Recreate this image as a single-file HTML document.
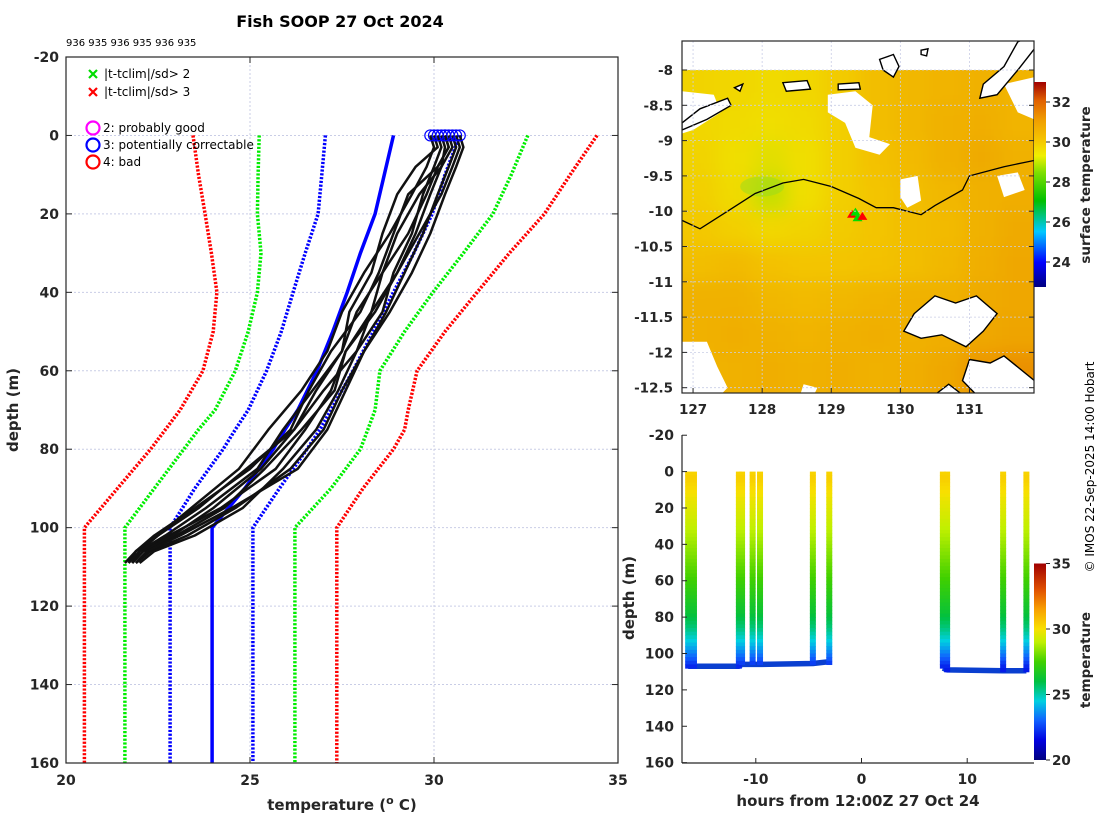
<!DOCTYPE html>
<html><head><meta charset="utf-8"><title>Fish SOOP 27 Oct 2024</title>
<style>
html,body{margin:0;padding:0;background:#fff;}
svg{display:block;font-family:"DejaVu Sans","Liberation Sans",sans-serif;}
.tk{font-size:14px;font-weight:bold;fill:#262626;}
.mt{font-size:13.5px;font-weight:bold;fill:#262626;}
.lab{font-size:15px;font-weight:bold;fill:#262626;}
.leg{font-size:12px;fill:#000;}
</style></head>
<body>
<svg id="fig" width="1100" height="820" viewBox="0 0 1100 820" xmlns="http://www.w3.org/2000/svg">
<defs>
<clipPath id="clipL"><rect x="66" y="57" width="552" height="706"/></clipPath>
<clipPath id="clipM"><rect x="682" y="41" width="352" height="352"/></clipPath>
<clipPath id="clipB"><rect x="682" y="435" width="352" height="328"/></clipPath>
<filter id="blur" x="-5%" y="-5%" width="110%" height="110%"><feGaussianBlur stdDeviation="9"/></filter>
<linearGradient id="cbMap" x1="0" y1="1" x2="0" y2="0">
<stop offset="0" stop-color="#000080"/><stop offset="0.12" stop-color="#0000ff"/>
<stop offset="0.27" stop-color="#00c8ff"/><stop offset="0.42" stop-color="#00c000"/>
<stop offset="0.56" stop-color="#80e000"/><stop offset="0.64" stop-color="#f0f000"/>
<stop offset="0.71" stop-color="#f5c800"/><stop offset="0.81" stop-color="#f0a000"/>
<stop offset="0.91" stop-color="#e06000"/><stop offset="1" stop-color="#a00000"/>
</linearGradient>
<linearGradient id="cbT" x1="0" y1="1" x2="0" y2="0">
<stop offset="0" stop-color="#000080"/><stop offset="0.1" stop-color="#0000e0"/>
<stop offset="0.2" stop-color="#1060ff"/><stop offset="0.3" stop-color="#00d0e0"/>
<stop offset="0.4" stop-color="#00c040"/><stop offset="0.5" stop-color="#40d000"/>
<stop offset="0.6" stop-color="#c0f000"/><stop offset="0.667" stop-color="#f8e000"/>
<stop offset="0.767" stop-color="#f8a000"/><stop offset="0.867" stop-color="#e05000"/>
<stop offset="1" stop-color="#a00000"/>
</linearGradient>
</defs>

<text x="340" y="27" text-anchor="middle" style="font-size:16px;font-weight:bold">Fish SOOP 27 Oct 2024</text>
<text x="66" y="46" style="font-size:10px">936 935 936 935 936 935</text>

<g id="left"></g>
<g id="map"></g>
<g id="bot"></g>

<text transform="translate(1094,467) rotate(-90)" text-anchor="middle" style="font-size:12px">© IMOS 22-Sep-2025 14:00 Hobart</text>
</svg>
<script>
const NS='http://www.w3.org/2000/svg';
function mk(parent,tag,attrs,text){const e=document.createElementNS(NS,tag);for(const k in attrs)e.setAttribute(k,attrs[k]);if(text!==undefined)e.textContent=text;parent.appendChild(e);return e;}

// ---------- LEFT PROFILE DATA ----------
const climDepths=[0,10,20,30,40,50,60,70,75,80,90,100,110,120,150,160];
const redLo=[23.45,23.6,23.78,23.95,24.1,24.0,23.72,23.1,22.7,22.3,21.4,20.5,20.5,20.5,20.5,20.5];
const greenLo=[25.25,25.22,25.2,25.3,25.2,24.95,24.6,24.05,23.6,23.2,22.4,21.6,21.6,21.6,21.6,21.6];
const blueLo=[27.05,26.95,26.85,26.5,26.17,25.85,25.45,24.95,24.6,24.27,23.5,22.83,22.83,22.83,22.83,22.83];
const climMean=[28.9,28.65,28.4,28.0,27.64,27.25,26.82,26.3,25.95,25.63,24.86,23.97,23.97,23.97,23.97,23.97];
const blueHi=[30.7,30.3,29.95,29.45,28.9,28.35,27.8,27.2,26.9,26.55,25.8,25.08,25.08,25.08,25.08,25.08];
const greenHi=[32.55,32.1,31.6,30.8,29.97,29.2,28.53,28.4,28.2,28.0,27.2,26.22,26.22,26.22,26.22,26.22];
const redHi=[34.43,33.7,33.0,32.05,31.17,30.3,29.54,29.3,29.2,28.9,28.07,27.36,27.36,27.36,27.36,27.36];

const obsDepths=[0,3,8,15,25,35,45,55,65,75,85,95,102,106,109];
const obs1=[30.0,30.1,29.5,29.0,28.6,28.3,27.7,27.5,26.8,26.2,24.9,23.6,22.5,21.9,21.7];
const obs2=[30.3,30.4,30.1,29.8,29.3,28.6,28.3,27.6,27.2,26.5,25.7,24.2,22.8,22.1,21.8];
const obs3=[30.5,30.6,30.4,30.1,29.7,29.2,28.7,28.1,27.5,27.0,26.1,24.6,23.3,22.3,21.9];
const obs4=[29.9,30.0,29.8,29.4,28.8,28.1,27.5,27.1,26.4,25.5,24.7,23.4,22.5,22.0,21.8];
const obs5=[30.2,30.3,30.2,29.9,29.5,29.0,28.4,27.6,27.3,26.4,25.4,24.3,23.0,22.2,21.9];
const obs6=[30.4,30.5,30.2,29.6,29.0,28.6,27.9,27.5,26.7,25.9,25.2,23.8,22.7,22.0,21.7];
const obs7=[30.1,30.2,30.0,29.7,29.4,28.9,28.6,27.9,27.4,26.8,25.9,24.8,23.5,22.4,22.0];
const obs8=[30.6,30.7,30.5,30.2,29.6,29.0,28.3,27.9,27.0,26.2,25.3,24.0,22.9,22.1,21.8];
const obs9=[30.3,30.4,30.1,29.3,28.9,28.5,28.0,27.2,26.6,26.1,25.0,23.5,22.4,21.9,21.6];
const obs10=[30.7,30.8,30.6,30.3,29.9,29.4,28.8,28.1,27.6,27.1,26.3,24.5,23.1,22.2,21.9];
const xTicksL=[20,25,30,35];
const yTicksL=[-20,0,20,40,60,80,100,120,140,160];

const xL=t=>66+(t-20)*36.8, yL=d=>57+(d+20)*3.9222;
const L=document.getElementById('left');
xTicksL.slice(1,3).forEach(t=>{const g=mk(L,'line',{x1:xL(t),x2:xL(t),y1:57,y2:763,stroke:'#c9cde6','stroke-width':1,'stroke-dasharray':'2,2'});

});
yTicksL.slice(1,-1).forEach(d=>{const g=mk(L,'line',{x1:66,x2:618,y1:yL(d),y2:yL(d),stroke:'#c9cde6','stroke-width':1,'stroke-dasharray':'2,2'});

});
const LC=mk(L,'g',{'clip-path':'url(#clipL)'});
function climLine(arr,color,dash,name){
  const pts=arr.map((t,i)=>xL(t).toFixed(1)+','+yL(climDepths[i]).toFixed(1)).join(' ');
  const p=mk(LC,'polyline',{points:pts,fill:'none',stroke:color,'stroke-width':3.5,'stroke-dasharray':dash?'2.2,1.6':'none'});
  
  
}
climLine(redLo,'#ff0000',true,'clim-minus-3sd');
climLine(greenLo,'#00ee00',true,'clim-minus-2sd');
climLine(blueLo,'#0000ff',true,'clim-minus-1sd');
climLine(climMean,'#0000ff',false,'clim-mean');
climLine(blueHi,'#0000ff',true,'clim-plus-1sd');
climLine(greenHi,'#00ee00',true,'clim-plus-2sd');
climLine(redHi,'#ff0000',true,'clim-plus-3sd');
const allObs=[obs1,obs2,obs3,obs4,obs5,obs6,obs7,obs8,obs9,obs10];
allObs.forEach(o=>{
  const pts=o.map((t,i)=>xL(t).toFixed(1)+','+yL(obsDepths[i]).toFixed(1)).join(' ');
  const p=mk(LC,'polyline',{points:pts,fill:'none',stroke:'#111','stroke-width':2.5,'stroke-linejoin':'round'});
  
  
  const c=mk(LC,'circle',{cx:xL(o[0]),cy:yL(0),r:5.5,fill:'none',stroke:'#0000ff','stroke-width':1.2});
  
  
});
mk(L,'rect',{x:66,y:57,width:552,height:706,fill:'none',stroke:'#262626','stroke-width':1.2});
xTicksL.forEach(t=>{mk(L,'line',{x1:xL(t),x2:xL(t),y1:763,y2:757,stroke:'#262626'});mk(L,'line',{x1:xL(t),x2:xL(t),y1:57,y2:63,stroke:'#262626'});
 const tx=mk(L,'text',{x:xL(t),y:785,'text-anchor':'middle',class:'tk'},String(t));
 
 });
yTicksL.forEach(d=>{mk(L,'line',{x1:66,x2:72,y1:yL(d),y2:yL(d),stroke:'#262626'});mk(L,'line',{x1:618,x2:612,y1:yL(d),y2:yL(d),stroke:'#262626'});
 const tx=mk(L,'text',{x:59,y:yL(d)+5,'text-anchor':'end',class:'tk'},String(d));
 
 });
const xt=mk(L,'text',{x:342,y:810,'text-anchor':'middle',class:'lab'});
xt.innerHTML='temperature (<tspan dy="-6" style="font-size:11px">o</tspan><tspan dy="6"> C)</tspan>';


const yt=mk(L,'text',{transform:'translate(18,410) rotate(-90)','text-anchor':'middle',class:'lab'},'depth (m)');


const LG=mk(L,'g',{});


[[74,'#00dd00','|t-tclim|/sd> 2'],[92,'#ff0000','|t-tclim|/sd> 3']].forEach(([y,c,t])=>{
 mk(LG,'path',{d:`M${89},${y-4}l8,8M${97},${y-4}l-8,8`,stroke:c,'stroke-width':2.2});
 const e=mk(LG,'text',{x:104,y:y+4,class:'leg'},t);
 
 });
[[128,'#ff00ff','2: probably good'],[145,'#0000ff','3: potentially correctable'],[162,'#ff0000','4: bad']].forEach(([y,c,t])=>{
 mk(LG,'circle',{cx:93,cy:y,r:6.5,fill:'none',stroke:c,'stroke-width':2.2});
 const e=mk(LG,'text',{x:103,y:y+4,class:'leg'},t);
 
 });

// ---------- MAP ----------
const sstLon0=126.84, sstLonStep=0.51, sstLat0=-8.0, sstLatStep=-0.5;
const sstRow0=[29.6,29.5,29.4,29.5,29.8,30.2,30.4,30.5,30.6,30.5];
const sstRow1=[29.5,29.4,29.3,29.4,29.7,30.2,30.4,30.6,30.7,30.5];
const sstRow2=[29.6,29.3,29.2,29.3,29.7,30.1,30.3,30.6,30.8,30.6];
const sstRow3=[29.7,29.4,29.0,29.3,29.7,30.0,30.2,30.4,30.6,30.7];
const sstRow4=[29.9,29.7,29.5,29.6,29.8,30.0,30.2,30.3,30.6,30.8];
const sstRow5=[30.2,30.3,30.1,30.0,30.0,30.1,30.2,30.4,30.7,30.9];
const sstRow6=[30.6,30.6,30.4,30.3,30.4,30.5,30.6,30.6,30.8,30.9];
const sstRow7=[30.6,30.7,30.6,30.5,30.6,30.7,30.6,30.7,30.9,31.0];
const sstRow8=[30.5,30.6,30.7,30.6,30.7,30.6,30.7,30.9,31.2,31.3];
const lonTicks=[127,128,129,130,131];
const latTicks=[-8,-8.5,-9,-9.5,-10,-10.5,-11,-11.5,-12,-12.5];
const sstCbTicks=[24,26,28,30,32];
const xM=lon=>682+(lon-126.84)*69.1, yM=lat=>70+(-8-lat)*70.6;
const mStops=[[22.75,[0,0,128]],[24,[0,0,255]],[25.5,[0,200,255]],[27,[0,192,0]],[28.5,[128,224,0]],[29.3,[240,222,0]],[30,[243,196,0]],[31,[238,164,0]],[32,[224,96,0]],[33,[160,0,0]]];
function cmap(stops,v){if(v<=stops[0][0])return stops[0][1];for(let i=1;i<stops.length;i++){if(v<=stops[i][0]){const f=(v-stops[i-1][0])/(stops[i][0]-stops[i-1][0]);const a=stops[i-1][1],b=stops[i][1];return a.map((x,k)=>Math.round(x+(b[k]-x)*f));}}return stops[stops.length-1][1];}
const rgb=c=>`rgb(${c[0]},${c[1]},${c[2]})`;
const M=document.getElementById('map');
const MC=mk(M,'g',{'clip-path':'url(#clipM)'});
const R=mk(MC,'g',{filter:'url(#blur)'});
const MCr=mk(MC,'g',{});
[sstRow0,sstRow1,sstRow2,sstRow3,sstRow4,sstRow5,sstRow6,sstRow7,sstRow8].forEach((row,r)=>{
 row.forEach((v,c)=>{
  const x0=xM(sstLon0+c*sstLonStep), y0=yM(sstLat0+r*sstLatStep);
  const cell=mk(R,'rect',{x:x0-(c===0?20:0),y:y0-(r===0?25:0),width:sstLonStep*69.1+1+(c===0||c===9?20:0),height:35.3+1+(r===8?20:0)+(r===0?25:0),fill:rgb(cmap(mStops,v))});
  
  
 });
});
mk(MCr,'rect',{x:682,y:41,width:352,height:29,fill:'#fff'});
const gp=mk(MCr,'ellipse',{cx:xM(128.0),cy:yM(-9.65),rx:22,ry:10,fill:'#90dc20',opacity:0.45});


const clouds=[
 [[128.95,-8.35],[129.35,-8.3],[129.6,-8.5],[129.55,-8.95],[129.85,-9.05],[129.7,-9.2],[129.35,-9.1],[129.2,-8.75],[128.95,-8.6]],
 [[130.0,-9.55],[130.25,-9.5],[130.3,-9.85],[130.1,-9.95],[130.0,-9.8]],
 [[126.84,-11.85],[127.2,-11.85],[127.35,-12.2],[127.5,-12.5],[127.4,-12.6],[126.84,-12.6]],
 [[128.6,-12.45],[128.8,-12.5],[128.75,-12.6],[128.55,-12.6]],
 [[131.5,-8.2],[131.94,-8.1],[131.94,-8.7],[131.7,-8.6]],
 [[126.84,-8.3],[127.3,-8.35],[127.4,-8.6],[127.0,-8.85],[126.84,-8.9]],
 [[131.4,-9.5],[131.7,-9.45],[131.8,-9.7],[131.5,-9.8]]
];
clouds.forEach(pl=>{const p=mk(MCr,'polygon',{points:pl.map(q=>xM(q[0]).toFixed(1)+','+yM(q[1]).toFixed(1)).join(' '),fill:'#fff'});
 
 });
const islands=[
 [[126.84,-8.75],[127.1,-8.55],[127.5,-8.4],[127.55,-8.5],[127.2,-8.7],[126.84,-8.85]],
 [[127.6,-8.25],[127.72,-8.2],[127.68,-8.3]],
 [[128.3,-8.18],[128.65,-8.15],[128.7,-8.27],[128.35,-8.3]],
 [[129.1,-8.2],[129.4,-8.18],[129.42,-8.27],[129.1,-8.28]],
 [[129.7,-7.85],[129.9,-7.78],[129.98,-7.95],[129.9,-8.1],[129.75,-8.0]],
 [[130.3,-7.72],[130.4,-7.7],[130.38,-7.8],[130.3,-7.78]],
 [[131.2,-8.2],[131.5,-7.95],[131.7,-7.6],[131.94,-7.5],[131.94,-7.7],[131.7,-8.0],[131.4,-8.35],[131.15,-8.4]],
 [[130.2,-11.45],[130.5,-11.2],[130.8,-11.3],[131.1,-11.2],[131.4,-11.45],[131.2,-11.7],[130.95,-11.92],[130.6,-11.75],[130.3,-11.8],[130.05,-11.7]],
 [[131.0,-12.1],[131.3,-12.15],[131.5,-12.05],[131.94,-12.4],[131.94,-12.6],[131.1,-12.6],[130.9,-12.4]],
 [[130.5,-12.6],[130.7,-12.45],[130.9,-12.6]]
];
islands.forEach(pl=>{const p=mk(MCr,'polygon',{points:pl.map(q=>xM(q[0]).toFixed(1)+','+yM(q[1]).toFixed(1)).join(' '),fill:'#fff',stroke:'#000','stroke-width':1.4});
 
 });
const iso=[[126.84,-10.13],[127.1,-10.25],[127.5,-10.0],[127.9,-9.75],[128.3,-9.6],[128.6,-9.55],[129.0,-9.65],[129.4,-9.82],[129.65,-9.95],[129.9,-9.95],[130.3,-10.05],[130.5,-9.92],[130.9,-9.7],[131.0,-9.5],[131.5,-9.37],[131.94,-9.28]];
const isoL=mk(MCr,'polyline',{points:iso.map(q=>xM(q[0]).toFixed(1)+','+yM(q[1]).toFixed(1)).join(' '),fill:'none',stroke:'#000','stroke-width':1.3});


const shipLon=[129.3,129.38,129.45,129.35];
const shipLat=[-10.05,-10.1,-10.08,-10.02];
shipLon.forEach((lo,i)=>{const t=mk(MCr,'path',{d:`M${xM(lo)},${yM(shipLat[i])-5}l5,8h-10z`,fill:i%2?'#00dd00':'#ff0000'});
 
 });
lonTicks.forEach(l=>mk(MCr,'line',{x1:xM(l),x2:xM(l),y1:41,y2:393,stroke:'#c9cde6','stroke-dasharray':'2,2','stroke-width':0.8}));
latTicks.forEach(l=>mk(MCr,'line',{x1:682,x2:1034,y1:yM(l),y2:yM(l),stroke:'#c9cde6','stroke-dasharray':'2,2','stroke-width':0.8}));
mk(M,'rect',{x:682,y:41,width:352,height:352,fill:'none',stroke:'#262626','stroke-width':1.2});
lonTicks.forEach(l=>{mk(M,'line',{x1:xM(l),x2:xM(l),y1:393,y2:388,stroke:'#262626'});
 const t=mk(M,'text',{x:xM(l),y:414,'text-anchor':'middle',class:'mt'},String(l));
 
 });
latTicks.forEach(l=>{mk(M,'line',{x1:682,x2:687,y1:yM(l),y2:yM(l),stroke:'#262626'});mk(M,'line',{x1:1034,x2:1029,y1:yM(l),y2:yM(l),stroke:'#262626'});
 const t=mk(M,'text',{x:673,y:yM(l)+5,'text-anchor':'end',class:'mt'},String(l));
 
 });
const cbY=v=>287-(v-22.75)*20;
const cb1=mk(M,'rect',{x:1034,y:cbY(33),width:12,height:cbY(22.75)-cbY(33),fill:'url(#cbMap)'});


sstCbTicks.forEach(v=>{mk(M,'line',{x1:1046,x2:1050,y1:cbY(v),y2:cbY(v),stroke:'#262626'});
 const t=mk(M,'text',{x:1052,y:cbY(v)+5,class:'mt'},String(v));
 
 });
const cbt=mk(M,'text',{transform:'translate(1090,185) rotate(-90)','text-anchor':'middle',class:'mt'},'surface temperature');



// ---------- BOTTOM TIME-DEPTH ----------
const profHours=[-16.4,-15.85,-11.6,-11.3,-10.3,-9.6,-4.6,-3.05,7.7,8.1,13.4,15.6];
const profBottom=[107,107,107,106,106,106,105.5,104.5,108,109,109.5,109.5];
const hourTicks=[-10,0,10];
const depthTicksB=[-20,0,20,40,60,80,100,120,140,160];
const tCbTicks=[20,25,30,35];
const xB=h=>861.5+h*10.57, yB=d=>471.6+d*1.819;
const tStops=[[20,[0,0,128]],[21.5,[0,0,224]],[23,[16,96,255]],[24.5,[0,208,224]],[26,[0,192,64]],[27.5,[64,208,0]],[29,[192,240,0]],[30,[248,224,0]],[31.5,[248,160,0]],[33,[224,80,0]],[35,[160,0,0]]];
const meanObs=obsDepths.map((d,i)=>allObs.reduce((s,o)=>s+o[i],0)/allObs.length);
function tAt(d){for(let i=1;i<obsDepths.length;i++){if(d<=obsDepths[i]){const f=(d-obsDepths[i-1])/(obsDepths[i]-obsDepths[i-1]);return meanObs[i-1]+(meanObs[i]-meanObs[i-1])*f;}}return meanObs[meanObs.length-1];}
const B=document.getElementById('bot');
const BC=mk(B,'g',{'clip-path':'url(#clipB)'});
const groups=[[0,7],[8,11]];
groups.forEach(([a,b])=>{
 const pts=[];for(let i=a;i<=b;i++){pts.push(xB(profHours[i]).toFixed(1)+','+yB(profBottom[i]).toFixed(1));}
 const p=mk(BC,'polyline',{points:pts.join(' '),fill:'none',stroke:'#0a3fd0','stroke-width':5.5,'stroke-linejoin':'round'});
 
 
});
profHours.forEach((h,i)=>{
 const g=mk(BC,'g',{});
 
 
 for(let d=0;d<profBottom[i];d+=2){
  mk(g,'rect',{x:xB(h)-3,y:yB(d),width:6,height:2*1.819+0.6,fill:rgb(cmap(tStops,tAt(d)))});
 }
});
mk(B,'line',{x1:682,x2:682,y1:435,y2:763,stroke:'#262626','stroke-width':1.2});
mk(B,'line',{x1:682,x2:1034,y1:763,y2:763,stroke:'#262626','stroke-width':1.2});
hourTicks.forEach(h=>{mk(B,'line',{x1:xB(h),x2:xB(h),y1:763,y2:758,stroke:'#262626'});
 const t=mk(B,'text',{x:xB(h),y:784,'text-anchor':'middle',class:'tk'},String(h));
 
 });
depthTicksB.forEach(d=>{mk(B,'line',{x1:682,x2:687,y1:yB(d),y2:yB(d),stroke:'#262626'});
 const t=mk(B,'text',{x:674,y:yB(d)+5,'text-anchor':'end',class:'tk'},String(d));
 
 });
const bx=mk(B,'text',{x:858,y:806,'text-anchor':'middle',class:'lab'},'hours from 12:00Z 27 Oct 24');


const by=mk(B,'text',{transform:'translate(634,598) rotate(-90)','text-anchor':'middle',class:'lab'},'depth (m)');


const cbYT=v=>760-(v-20)*13.1;
const cb2=mk(B,'rect',{x:1034,y:cbYT(35),width:12,height:cbYT(20)-cbYT(35),fill:'url(#cbT)'});


tCbTicks.forEach(v=>{mk(B,'line',{x1:1046,x2:1050,y1:cbYT(v),y2:cbYT(v),stroke:'#262626'});
 const t=mk(B,'text',{x:1052,y:cbYT(v)+5,class:'mt'},String(v));
 
 });
const cbt2=mk(B,'text',{transform:'translate(1090,660) rotate(-90)','text-anchor':'middle',class:'mt'},'temperature');


</script>
</body></html>
